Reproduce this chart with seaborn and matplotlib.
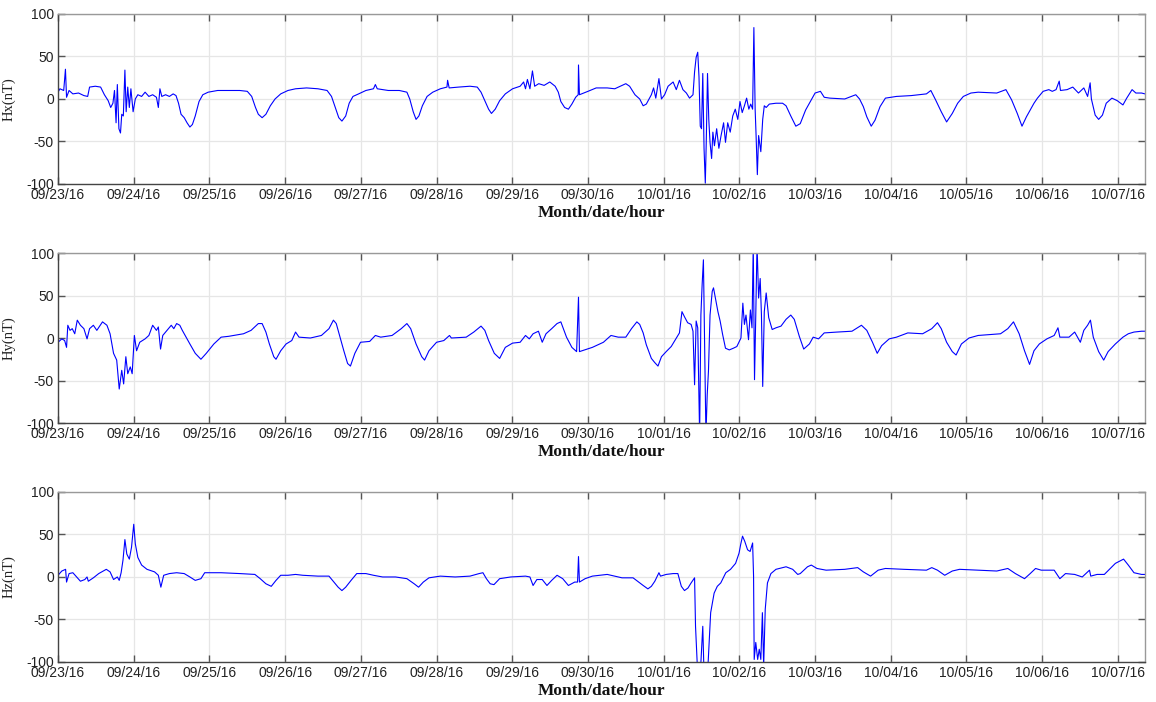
import matplotlib
matplotlib.use("Agg")
import matplotlib.pyplot as plt
import seaborn as sns

# ---------------- data (hours since 09/23/16 00:00, nT) ----------------
hx_hours = [0, 0.6, 1.8, 2.35, 2.7, 3.5, 4.7, 6.5, 8.2, 9.4, 10, 11.8, 13.5, 14.7, 15.9, 16.7, 17.4, 17.9,
            18.4, 18.8, 19.3, 19.8, 20.2, 20.7, 21.2, 21.6, 22.1, 22.6, 23.1, 23.8, 24.5, 25.3, 26.5, 27.6,
            28.8, 30, 31.2, 31.8, 32.3, 32.9, 34.1, 35.3, 36.5, 37.4, 38.2, 39, 40, 40.9, 41.8, 42.6, 43.5,
            44.7, 45.9, 47.6, 50.6, 54.1, 57.6, 60, 61.4, 62.6, 63.5, 64.7, 65.9, 67.3, 68.8, 70.6, 72.9,
            75.3, 78.8, 82.4, 85.3, 86.7, 87.9, 89, 90, 91.2, 92.3, 93.5, 95.3, 97.6, 100, 100.6, 101.2,
            104.7, 108.2, 110.6, 111.5, 112.6, 113.5, 114.4, 115.5, 117, 118.8, 121.2, 123.3, 123.5, 124,
            127, 130.6, 132.9, 134.1, 135.3, 136.5, 137.4, 138.6, 140, 141.8, 144.1, 146.5, 147.6, 148.2,
            148.8, 149.6, 150.4, 151.1, 152.4, 154.1, 155.9, 157.6, 158.6, 159.4, 160.6, 161.8, 162.9,
            164.1, 164.9, 165.0, 165.3,
            168.0, 170.6, 174.1, 176.5, 180.0, 181.2, 182.9,
            184.4, 185.5, 186.5, 188.1, 188.8, 189.5, 190.5, 191.3, 192.3, 193.4, 195, 196, 197, 198.1,
            199.2, 200.2, 201.3, 201.8, 202.3, 202.8, 203.2, 203.6, 204, 204.4, 204.8, 205.2, 205.5, 205.9,
            206.3, 206.7, 207.2, 207.6, 208.1, 208.8, 209.5, 210.2, 211, 211.6, 212.3, 213.1, 213.9, 214.7,
            215.5, 216.2, 216.9, 217.6, 218.3, 219, 219.6, 220.2, 220.6, 221, 221.3, 221.7, 222.1, 222.8,
            223.4, 223.9, 224.5, 225.5, 227.6, 229.7, 230.8, 232.3, 233.9,
            235.3, 237.0, 238.8, 240, 241.7, 242.9, 244.7, 249.4, 252.9, 254.1, 255.3, 256.4, 257.8, 259,
            260.6, 262.3, 265.8, 270.5, 275.3, 276.7, 278.2, 280, 281.7, 283.5, 285.2, 287, 289.4, 291.7,
            297.6, 300.5, 302.3, 304.1, 305.6, 307, 309.4, 310.5, 312.3, 314.1, 315.2, 316.4, 317.4, 317.8,
            319.9, 321.7, 323.5, 325.2, 326.4, 327.2, 327.6, 328.8, 329.9, 331.1, 332.3, 334.1, 335.8,
            337.6, 338.8, 340.5, 341.7, 343.5, 344.6]
hx_vals = [8, 12, 10, 35, 2, 10, 6, 7, 4, 3, 14, 15, 14, 5, -2, -10, -5, 10,
           -28, 17, -35, -40, -18, -20, 34, -15, 14, -10, 12, -15, 0, 5, 3, 8,
           3, 5, 2, -10, 12, 3, 5, 3, 6, 4, -5, -18, -22, -28, -33, -30, -20,
           -3, 5, 8, 10, 10, 10, 9, 3, -10, -18, -22, -18, -8, 0, 6, 10,
           12, 13, 12, 10, 3, -10, -22, -26, -20, -5, 3, 6, 10, 12, 17, 12,
           10, 10, 8, 0, -15, -24, -20, -8, 3, 8, 12, 14, 22, 13,
           14, 15, 14, 8, -2, -12, -17, -12, -2, 6, 12, 15, 20, 12,
           23, 12, 33, 15, 18, 16, 20, 15, 8, -3, -10, -12, -6,
           2, 5, 40, 5,
           9, 13, 13, 12, 18, 15, 5,
           0, -8, -6, 5, 13, 1, 24, 0, 5, 15, 20, 11, 22, 11,
           7, 1, 5, 32, 49, 55, 26, -32, -35, 30, -58, -99, -51, 30,
           -24, -51, -70, -39, -55, -35, -58, -43, -28, -51, -28, -39, -20, -12,
           -24, -3, -16, -8, 1, -12, -6, -12, 84, -12, -43, -89, -43, -62,
           -24, -8, -10, -6, -5, -5, -8, -20, -32,
           -29, -13, -1, 7, 9, 2, 1, 0, 5, 0, -9, -21, -32, -25,
           -9, 1, 3, 4, 6, 10, -1, -15, -27, -17, -5, 3, 7, 8,
           7, 11, -1, -17, -32, -21, -5, 1, 9, 11, 9, 11, 21, 10,
           11, 14, 7, 13, 3, 19, 0, -19, -24, -19, -5, 1, -2,
           -7, 1, 11, 7, 7, 6]

hy_hours = [0, 1.2, 2.1, 2.7, 3.1, 3.8, 4.5, 5.3, 6.1, 7.1, 8.2, 9.2, 10, 11.2, 12.3, 14.1, 15.5, 16.5,
            17.6, 18.6, 19.4, 20.2, 20.8, 21.5, 22.1, 22.9, 23.5, 24.2, 24.9, 25.9, 27.6, 28.8, 30, 31.2,
            31.8, 32.5, 33.2, 34.1, 35, 35.9, 36.7, 37.6, 38.6, 39.4, 40.6, 41.8, 43.5, 45.3, 47, 49.4,
            51.7, 54.1, 58.8, 61.2, 63.5, 64.7, 65.9, 67, 68.4, 69.1, 70.6, 72.3, 74.1, 75.3, 76.4, 80,
            83.5, 85.9, 87.3, 88.2, 89.4, 90.6, 91.8, 92.7, 94.1, 95.9, 98.8, 100.6, 102.3, 105.9, 108.8,
            110.6, 111.8, 113.5, 115.3, 116.2, 117.6, 120, 122.3, 124.1, 124.7, 129.4, 131.8, 134.1,
            135.3, 136.5, 138.3, 140, 141.8, 144.1, 146.5, 148.2, 149.4, 150.6, 152.3, 153.5, 154.7,
            156.5, 158.2, 159.4, 161.2, 162.9, 164.4, 165.0, 165.3,
            169.4, 172.9, 175.3, 177.6, 180, 181.8, 183.5,
            184.4, 185.5, 186.5, 188.1, 189.2, 190.2, 191.3, 192.8, 194.4, 196, 197, 197.8, 198.6, 199.6,
            200.7, 201.3, 201.8, 202.3, 202.8, 203.4, 203.8, 204.2, 204.6, 205, 205.4, 205.8, 206.2,
            206.7, 207.4, 207.8, 208.4, 209.2, 209.9, 210.7, 211.6, 212.8, 214.1, 215.2, 216, 216.5,
            217.1, 217.6, 218.1, 218.9, 219.5, 220, 220.4, 220.8, 221.2, 221.6, 222.1, 222.6, 223,
            223.4, 223.9, 224.5, 225.3, 226.4, 227.6, 229.2, 230.8, 232.3, 233.4, 235,
            236.4, 238.2, 239.4, 241.1, 242.9, 247, 251.7, 254.7, 256.4, 258.2, 259.7, 261.1, 263.5,
            265.8, 269.4, 274.1, 277, 278.8, 280, 281.7, 283.5, 284.7, 286.4, 288.8, 291.7, 295.2,
            298.8, 301.1, 302.9, 304.7, 306.4, 308, 309.4, 311.1, 313.5, 315.8, 317, 317.6, 320.5,
            322.3, 324.1, 325.2, 326.4, 327.3, 328.2, 329.9, 331.5, 332.9, 335.2, 337.6, 339.3, 341.1,
            343.5, 344.6]
hy_vals = [-5, -1, -3, -11, 15, 9, 11, 5, 21, 15, 11, -1, 11, 15, 9, 19, 15, 5,
           -18, -26, -60, -38, -54, -22, -42, -34, -42, 3, -15, -5, -1, 3, 15, 9,
           13, -13, 3, 7, 11, 15, 11, 17, 15, 9, 1, -7, -18, -25, -18, -7,
           1, 2, 5, 9, 17, 17, 7, -7, -22, -25, -15, -7, -3, 7, 1, 0,
           3, 11, 21, 17, 1, -15, -30, -33, -18, -5, -4, 3, 1, 3, 11,
           17, 11, -7, -22, -26, -15, -5, -3, 3, 0, 1, 7, 14,
           9, -3, -18, -24, -11, -6, -5, 3, -1, 5, 8, -5, 5,
           11, 17, 19, 1, -11, -16, 48, -16,
           -11, -5, 3, 1, 1, 11, 19,
           16, 6, -8, -24, -29, -33, -22, -16, -10, 0, 6, 31, 25, 18,
           16, 8, -55, 20, 12, -115, 27, 63, 92, -12, -115, -67, -39,
           27, 55, 59, 47, 31, 20, 4, -12, -14, -12, -10, -4, 0,
           41, 16, 27, -2, 33, 12, 110, -49, 27, 110, 47, 70, 27,
           -57, 31, 53, 24, 10, 12, 14, 22, 27, 22, 2,
           -13, -7, 1, -1, 6, 7, 8, 15, 9, -5, -18, -9, -1,
           1, 6, 5, 11, 18, 11, -5, -16, -20, -7, 0, 3, 4,
           5, 11, 19, 5, -15, -31, -15, -7, -1, 3, 12, 1, 1,
           7, -5, 9, 15, 21, 1, -16, -26, -16, -7, 1, 5, 7,
           8, 8]

hz_hours = [0, 1.2, 2.4, 2.7, 3.5, 4.7, 5.9, 7.1, 8.5, 9.2, 9.6, 11.2, 12.9, 15.3, 16.5, 17.6, 18.8,
            19.4, 20, 20.6, 21.2, 21.8, 22.6, 23.3, 24, 24.5, 25.3, 26.5, 28.2, 30.6, 31.8, 32.6, 33.5,
            35.3, 37.6, 40, 41.8, 43.5, 45.3, 46.5, 51.7, 57.6, 62.4, 64.1, 65.9, 67.6, 69.1, 70.6, 72.9,
            75.3, 77.6, 82.4, 85.9, 87, 88.8, 90, 91.2, 92.9, 94.7, 97.6, 100, 102.9, 107, 110.6, 112.9,
            114.3, 115.8, 117.6, 121.2, 125.9, 130.6, 133.5, 134.7, 135.8, 137, 138.2, 140, 143.5, 148.2,
            149.6, 150.6, 151.8, 153.5, 155, 156.5, 158.2, 160, 161.8, 163.8, 164.7, 165.0, 165.3,
            167.1, 169.4, 174.1, 178.8, 182.3,
            184.4, 185.5, 187, 188.1, 189.2, 190.5, 191, 192.8, 195, 196.5, 197.6, 198.6, 199.7, 200.7,
            201.8, 202.1, 202.8, 203.6, 204.4, 204.8, 205.9, 206.9, 208, 209, 210.1, 211.7, 213.2,
            214.8, 215.9, 216.4, 217, 217.7, 218.6, 219.4, 220.2, 220.5, 220.7, 221.2, 221.8, 222.3,
            222.8, 223.3, 223.7, 224.2, 224.9, 226, 227.6, 230.8, 232.9, 234.5,
            235.3, 237.6, 238.8, 240.6, 243.5, 249.4, 253.5, 255.3, 257.6, 260, 262.3, 268.2, 275.3,
            277, 278.8, 281.1, 283.5, 285.8, 291.7, 297.6, 301.1, 303.5, 306.4, 308.2, 309.9, 311.7,
            315.8, 317.6, 319.4, 322.3, 324.7, 327, 327.4, 329.4, 331.7, 335.2, 337.8, 339.3, 341.1,
            343.5, 344.6]
hz_vals = [2, 7, 9, -6, 4, 5, 0, -5, -3, 0, -5, -1, 4, 9, 6, -3, 0,
           -4, 5, 20, 44, 27, 21, 35, 62, 39, 23, 14, 9, 6, 2, -12, 2,
           4, 5, 4, 0, -4, -2, 5, 5, 4, 3, -2, -8, -11, -4, 2, 2,
           3, 2, 1, 1, -4, -12, -16, -12, -4, 4, 4, 2, 0, 0, -2, -8,
           -12, -6, -1, 1, 0, 1, 4, 5, -2, -8, -9, -2, 0, 1,
           0, -10, -3, -3, -10, -4, 2, -2, -10, -6, -6, 24, -6,
           -2, 1, 3, -1, -1,
           -7, -10, -14, -11, -5, 5, 1, 3, 4, 4, -11, -16, -13, -7,
           -1, -58, -115, -115, -58, -115, -115, -42, -19, -11, -7, 5, 9,
           16, 28, 38, 48, 42, 32, 30, 40, 1, -97, -77, -97, -85,
           -97, -42, -105, -38, -7, 4, 9, 12, 9, 3,
           4, 12, 14, 10, 8, 9, 11, 6, 1, 8, 10, 9, 8,
           11, 8, 2, 7, 9, 8, 7, 10, 4, -2, 4, 10, 8,
           8, -2, 4, 3, 0, 8, 1, 3, 3, 16, 21, 14, 5,
           3, 3]

tick_hours = [0, 24, 48, 72, 96, 120, 144, 168, 192, 216, 240, 264, 288, 312, 336]
tick_labels = ["09/23/16", "09/24/16", "09/25/16", "09/26/16", "09/27/16", "09/28/16", "09/29/16",
               "09/30/16", "10/01/16", "10/02/16", "10/03/16", "10/04/16", "10/05/16", "10/06/16",
               "10/07/16"]
y_ticks = [-100, -50, 0, 50, 100]
y_labels = ["Hx(nT)", "Hy(nT)", "Hz(nT)"]
x_label = "Month/date/hour"

# ---------------- style ----------------
sns.set_theme(style="white")
plt.rcParams['font.family'] = ['Liberation Sans', 'DejaVu Sans']

fig = plt.figure(figsize=(11.56, 7.02), dpi=100)
left, width, height = 0.0502, 0.9403, 0.2422
bottoms = [0.7379, 0.3974, 0.0570]
series = [(hx_hours, hx_vals), (hy_hours, hy_vals), (hz_hours, hz_vals)]

for bottom, (hrs, vals), ylab in zip(bottoms, series, y_labels):
    ax = fig.add_axes([left, bottom, width, height])
    sns.lineplot(x=hrs, y=vals, ax=ax, color='#0000ff', linewidth=0.8,
                 estimator=None, sort=False)
    ax.set_xlim(0, 344.6)
    ax.set_ylim(-100, 100)
    ax.set_xticks(tick_hours)
    ax.set_xticklabels(tick_labels, fontsize=10, color='#222222')
    ax.set_yticks(y_ticks)
    ax.set_yticklabels([str(v) for v in y_ticks], fontsize=10, color='#222222')
    ax.grid(True, color='#e6e6e6', linewidth=0.9)
    ax.set_axisbelow(True)
    ax.tick_params(direction='in', length=5, width=1, top=True, right=True,
                   bottom=True, left=True, color='#555555', pad=3)
    for side in ['left', 'bottom']:
        ax.spines[side].set_color('#444444')
        ax.spines[side].set_linewidth(1.0)
    for side in ['top', 'right']:
        ax.spines[side].set_color('#999999')
        ax.spines[side].set_linewidth(1.0)
    ax.set_ylabel(ylab, fontfamily=['Liberation Serif', 'DejaVu Serif'], fontsize=10.5, color='#222222')
    ax.yaxis.set_label_coords(-0.0386, 0.5)
    ax.set_xlabel(x_label, fontfamily=['Liberation Serif', 'DejaVu Serif'], fontweight='bold',
                  fontsize=12.5, color='#111111', labelpad=2)

fig.savefig("out.png", dpi=100)
